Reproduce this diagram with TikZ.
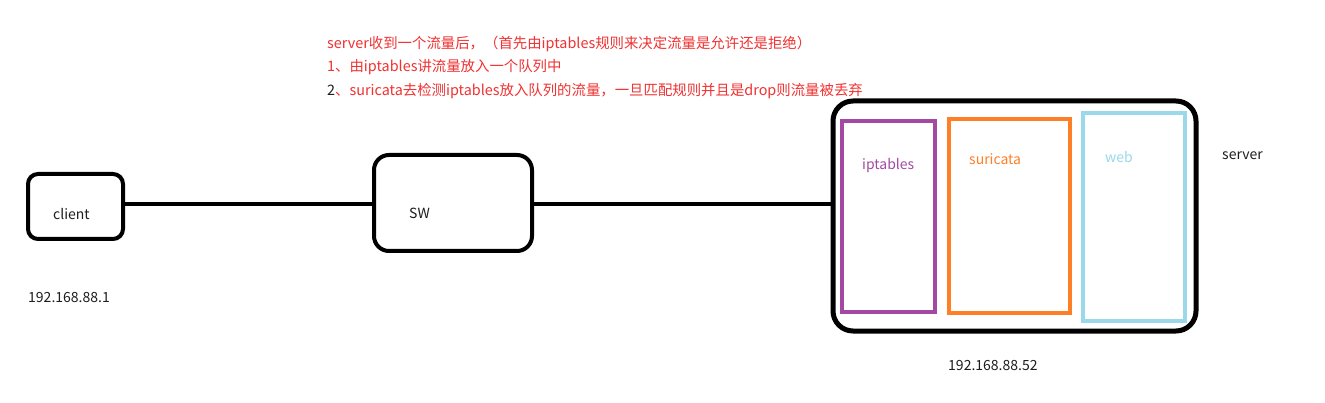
\documentclass[tikz,border=0pt]{standalone}
\usepackage{fontspec}
\setmainfont{Noto Sans CJK SC}
\definecolor{redtxt}{RGB}{240,50,50}
\definecolor{purp}{RGB}{163,73,164}
\definecolor{orng}{RGB}{255,127,39}
\definecolor{lblue}{RGB}{153,217,234}
\definecolor{dark}{RGB}{30,30,30}
\begin{document}
\begin{tikzpicture}[x=1pt,y=-1pt,
  box/.style={draw=black,line width=4pt,rectangle,inner sep=0pt},
  inbox/.style={rectangle,inner sep=0pt,line width=4.5pt},
  lbl/.style={anchor=base west,inner sep=0pt,font=\fontsize{14}{16}\selectfont,text=dark},
  note/.style={anchor=base west,inner sep=0pt,font=\fontsize{14.4}{16}\selectfont,text=redtxt},
  link/.style={line width=4pt,draw=black}]
\useasboundingbox[fill=white] (0,0) rectangle (1325,403);
% boxes
\node[box,rounded corners=10pt,minimum width=95pt,minimum height=65pt] (client) at (75.5,206.5) {};
\node[box,rounded corners=15pt,minimum width=158pt,minimum height=96pt] (sw) at (453,203) {};
\node[box,line width=5pt,rounded corners=20pt,minimum width=363pt,minimum height=230pt] (server) at (1014.5,216) {};
\node[inbox,draw=purp,minimum width=93pt,minimum height=191pt] (ipt) at (888.5,216.5) {};
\node[inbox,draw=orng,minimum width=121pt,minimum height=194pt] (sur) at (1009.5,216) {};
\node[inbox,draw=lblue,minimum width=102pt,minimum height=208pt] (web) at (1134,217) {};
% links
\draw[link] (client.east |- 0,204) -- (sw.west |- 0,204);
\draw[link] (sw.east |- 0,204) -- (server.west |- 0,204);
% labels
\node[lbl] (tclient) at (53,220) {client};
\node[lbl] (tsw) at (409,219) {SW};
\node[lbl,text=purp] (tipt) at (862,170) {iptables};
\node[lbl,text=orng] (tsur) at (969,165) {suricata};
\node[lbl,text=lblue] (tweb) at (1105,163) {web};
\node[lbl] (tserver) at (1222,160) {server};
\node[lbl] (ip1) at (28,302) {192.168.88.1};
\node[lbl] (ip2) at (948,370) {192.168.88.52};
% notes
\node[note] (n1) at (327,49) {server收到一个流量后，（首先由iptables规则来决定流量是允许还是拒绝）};
\node[note] (n2) at (327,72) {1、由iptables讲流量放入一个队列中};
\node[note] (n3) at (327,96) {\textcolor{dark}{2}、suricata去检测iptables放入队列的流量，一旦匹配规则并且是drop则流量被丢弃};
\end{tikzpicture}
\end{document}
